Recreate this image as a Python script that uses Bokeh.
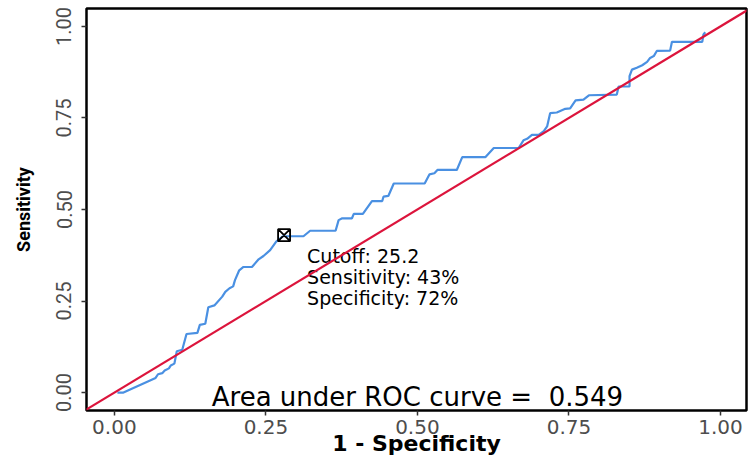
from bokeh.plotting import figure
from bokeh.models import Range1d, Slope, FixedTicker, ColumnDataSource
from bokeh.core.properties import value
from bokeh.embed import file_html
from bokeh.resources import INLINE

# ROC curve (1 - specificity, sensitivity)
fpr = [0.005, 0.015, 0.068, 0.072, 0.079, 0.083, 0.090, 0.093, 0.099, 0.103,
       0.112, 0.119, 0.137, 0.141, 0.150, 0.155, 0.165, 0.178, 0.183, 0.190,
       0.196, 0.199, 0.206, 0.213, 0.227, 0.238, 0.246, 0.257, 0.267, 0.278,
       0.312, 0.323, 0.365, 0.370, 0.376, 0.392, 0.395, 0.410, 0.425, 0.442,
       0.444, 0.452, 0.461, 0.512, 0.520, 0.528, 0.533, 0.565, 0.574, 0.612,
       0.626, 0.667, 0.675, 0.681, 0.689, 0.700, 0.708, 0.714, 0.719, 0.730,
       0.744, 0.752, 0.761, 0.774, 0.783, 0.829, 0.832, 0.850, 0.850, 0.854,
       0.862, 0.871, 0.879, 0.884, 0.890, 0.895, 0.917, 0.920, 0.970, 0.972,
       0.975]
tpr = [0.000, 0.000, 0.040, 0.050, 0.053, 0.060, 0.066, 0.074, 0.079, 0.113,
       0.117, 0.160, 0.163, 0.185, 0.188, 0.233, 0.238, 0.262, 0.275, 0.285,
       0.290, 0.307, 0.334, 0.343, 0.343, 0.364, 0.373, 0.389, 0.412, 0.427,
       0.427, 0.442, 0.442, 0.471, 0.476, 0.476, 0.488, 0.488, 0.523, 0.523,
       0.535, 0.537, 0.571, 0.571, 0.596, 0.599, 0.608, 0.608, 0.643, 0.643,
       0.668, 0.668, 0.689, 0.693, 0.704, 0.704, 0.713, 0.727, 0.763, 0.765,
       0.775, 0.776, 0.798, 0.800, 0.812, 0.814, 0.836, 0.836, 0.864, 0.882,
       0.887, 0.894, 0.903, 0.914, 0.919, 0.933, 0.934, 0.958, 0.958, 0.978,
       0.984]

cutoff_value = 25.2
cutoff_sens = 0.43
cutoff_spec = 0.72
auc = 0.549

x_ticks = [0.0, 0.25, 0.5, 0.75, 1.0]
x_tick_labels = ["0.00", "0.25", "0.50", "0.75", "1.00"]
y_ticks = [0.0, 0.25, 0.5, 0.75, 1.0]
y_tick_labels = ["0.00", "0.25", "0.50", "0.75", "1.00"]

BLUE = "#4A90E2"
RED = "#DC143C"

p = figure(width=748, height=459, output_backend="svg", toolbar_location=None,
           x_range=Range1d(-0.046, 1.043), y_range=Range1d(-0.049, 1.049),
           min_border_left=86, min_border_right=2, min_border_top=8,
           min_border_bottom=49)
p.background_fill_color = "white"
p.border_fill_color = "white"
p.xgrid.visible = False
p.ygrid.visible = False
p.outline_line_color = "black"
p.outline_line_width = 2.5
p.outline_line_alpha = 1.0

for ax in (p.xaxis[0], p.yaxis[0]):
    ax.axis_line_color = None
    ax.major_tick_line_color = "#333333"
    ax.major_tick_line_width = 1.5
    ax.major_tick_in = 0
    ax.major_tick_out = 5
    ax.minor_tick_line_color = None
    ax.major_label_text_color = "#4D4D4D"
    ax.axis_label_text_color = "black"
    ax.axis_label_text_font_style = "bold"

p.xaxis.ticker = FixedTicker(ticks=x_ticks)
p.xaxis.major_label_overrides = dict(zip(x_ticks, x_tick_labels))
p.xaxis.major_label_text_font = "DejaVu Sans"
p.xaxis.major_label_text_font_size = "20px"
p.xaxis.major_label_standoff = 4
p.xaxis.axis_label = "1 - Specificity"
p.xaxis.axis_label_text_font = "DejaVu Sans"
p.xaxis.axis_label_text_font_size = "22px"
p.xaxis.axis_label_standoff = -6

p.yaxis.ticker = FixedTicker(ticks=y_ticks)
p.yaxis.major_label_overrides = dict(zip(y_ticks, y_tick_labels))
p.yaxis.major_label_orientation = "vertical"
p.yaxis.major_label_text_font = "Roboto"
p.yaxis.major_label_text_font_size = "20px"
p.yaxis.major_label_standoff = 10
p.yaxis.axis_label = "Sensitivity"
p.yaxis.axis_label_text_font = "Roboto"
p.yaxis.axis_label_text_font_size = "18px"
p.yaxis.axis_label_standoff = 20

src = ColumnDataSource(dict(x=fpr, y=tpr))
p.line("x", "y", source=src, line_color=BLUE, line_width=2.2)

p.add_layout(Slope(gradient=1, y_intercept=0, line_color=RED, line_width=2.2))

p.scatter([1 - cutoff_spec], [cutoff_sens], marker="square_x", size=12,
          line_color="black", fill_color=None, line_width=1.8)

ann = ColumnDataSource(dict(
    x=[0.318, 0.318, 0.318],
    y=[0.372, 0.317, 0.259],
    t=[f"Cutoff: {cutoff_value}",
       f"Sensitivity: {round(cutoff_sens * 100)}%",
       f"Specificity: {round(cutoff_spec * 100)}%"]))
p.text("x", "y", text="t", source=ann, text_font=value("DejaVu Sans"),
       text_font_size="19px", text_color="black", text_align="left",
       text_baseline="middle")

p.text([0.5], [-0.012], text=[f"Area under ROC curve =\u00a0\u00a0{auc}"],
       text_font=value("DejaVu Sans"), text_font_size="26px",
       text_color="black", text_align="center", text_baseline="middle")

open("out.html", "w").write(file_html(p, INLINE))
